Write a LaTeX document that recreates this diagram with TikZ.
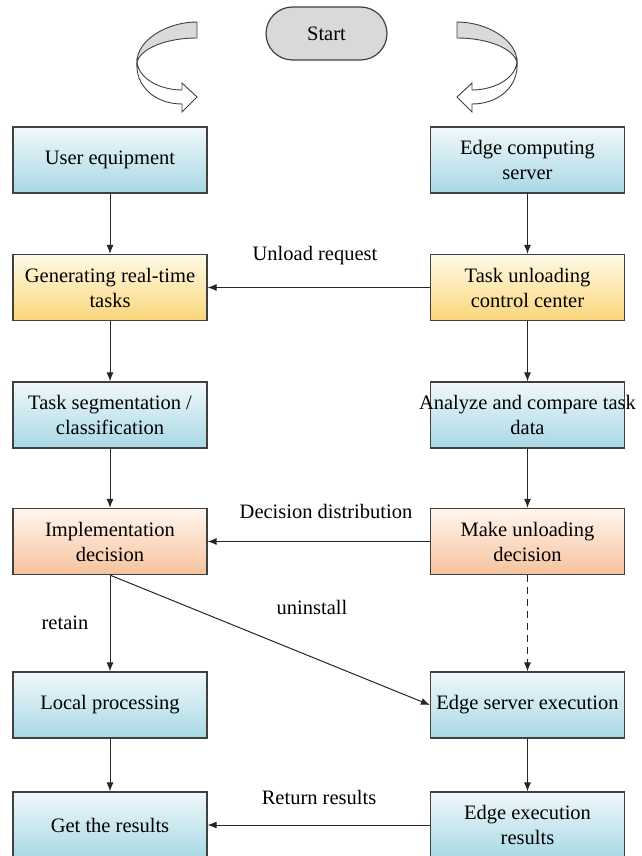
\documentclass[tikz,border=0pt]{standalone}
\usepackage{fontspec}
\setmainfont{LiberationSerif}[Extension=.ttf,UprightFont=*-Regular,BoldFont=*-Bold]
\usetikzlibrary{arrows.meta,shapes.misc}
\definecolor{bluetop}{HTML}{F0F8FB}
\definecolor{bluebot}{HTML}{A8D8E4}
\definecolor{yeltop}{HTML}{FFFAE6}
\definecolor{yelbot}{HTML}{FAD67A}
\definecolor{ortop}{HTML}{FFF6EF}
\definecolor{orbot}{HTML}{F6C29C}
\definecolor{edgegray}{HTML}{404040}
\definecolor{startfill}{HTML}{D9D9D9}
\definecolor{bandgray}{HTML}{DADADA}
\begin{document}
\begin{tikzpicture}[x=1pt,y=-1pt,
  font=\rmfamily\fontsize{20.5}{25}\selectfont,
  box/.style={draw=edgegray,line width=1.2pt,minimum width=194pt,minimum height=66pt,inner sep=0pt,align=center},
  bluebox/.style={box,top color=bluetop,bottom color=bluebot},
  yelbox/.style={box,top color=yeltop,bottom color=yelbot},
  orbox/.style={box,top color=ortop,bottom color=orbot},
  conn/.style={line width=1pt,draw=black!85,-{Latex[length=9pt,width=7pt]}},
  lbl/.style={inner sep=0pt},
  curvearrow/.pic={
    \draw[line width=0.9pt,draw=black!75,fill=white]
      (-60,62) .. controls (-58,80) and (-35,90) .. (-15,90) -- (-15,83) -- (0,97)
      -- (-15,112) -- (-15,104) .. controls (-42,104) and (-62,86) .. (-60,62) -- cycle;
    \draw[line width=0.9pt,draw=black!75,fill=bandgray]
      (0,22) .. controls (-30,22) and (-60,40) .. (-60,62)
      .. controls (-56,48) and (-30,38) .. (0,38) -- cycle;
  }]
\useasboundingbox (0,0) rectangle (641,856);

\node[rounded rectangle,draw=edgegray,line width=1.2pt,fill=startfill,minimum width=121pt,minimum height=53pt,inner sep=0pt] (start) at (326.5,33.5) {Start};
\pic (larrow) at (197,0) {curvearrow};
\pic[xscale=-1] (rarrow) at (457,0) {curvearrow};

\node[bluebox] (ue) at (110,160) {User equipment};
\node[bluebox] (ecs) at (527.5,160) {Edge computing\\server};
\node[yelbox] (gen) at (110,287.5) {Generating real-time\\tasks};
\node[yelbox] (tucc) at (527.5,287.5) {Task unloading\\control center};
\node[bluebox] (seg) at (110,415) {Task segmentation /\\classification};
\node[bluebox] (ana) at (527.5,415) {\makebox[0pt]{Analyze and compare task}\\data};
\node[orbox] (impl) at (110,541.5) {Implementation\\decision};
\node[orbox] (mud) at (527.5,541.5) {Make unloading\\decision};
\node[bluebox] (loc) at (110,705) {Local processing};
\node[bluebox] (ese) at (527.5,705) {\makebox[0pt]{Edge server execution}};
\node[bluebox] (res) at (110,825) {Get the results};
\node[bluebox] (eer) at (527.5,825) {Edge execution\\results};

\draw[conn] (ue) -- (gen);
\draw[conn] (gen) -- (seg);
\draw[conn] (seg) -- (impl);
\draw[conn] (impl) -- (loc);
\draw[conn] (loc) -- (res);
\draw[conn] (ecs) -- (tucc);
\draw[conn] (tucc) -- (ana);
\draw[conn] (ana) -- (mud);
\draw[conn,dash pattern=on 7pt off 5pt] (mud) -- (ese);
\draw[conn] (ese) -- (eer);
\draw[conn] (tucc.west) -- (gen.east);
\draw[conn] (mud.west) -- (impl.east);
\draw[conn] (eer.west) -- (res.east);
\draw[conn] (impl.south) -- (ese.west);

\node[lbl] (l1) at (315,256) {Unload request};
\node[lbl] (l2) at (326,511) {Decision distribution};
\node[lbl] (l3) at (312,607) {uninstall};
\node[lbl] (l4) at (65,623) {retain};
\node[lbl] (l5) at (319,797) {Return results};
\end{tikzpicture}
\end{document}
